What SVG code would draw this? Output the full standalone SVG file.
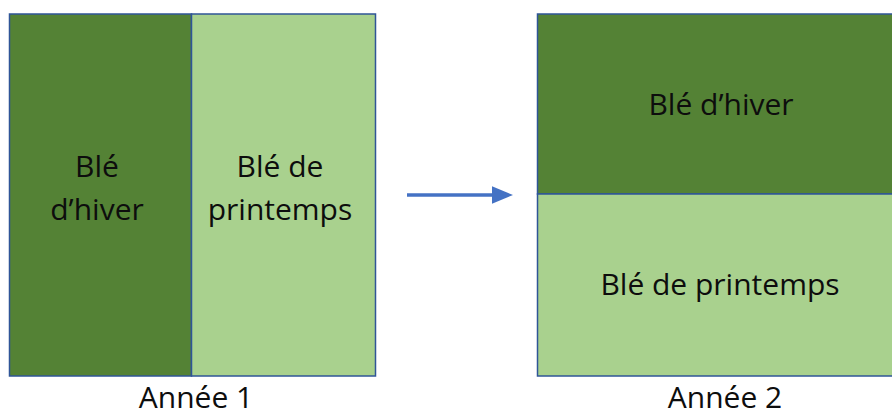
<svg xmlns="http://www.w3.org/2000/svg" width="892" height="417" viewBox="0 0 892 417">
<style>
.dark{fill:#548235;stroke:#2F5597;stroke-width:1.5}
.light{fill:#A9D18E;stroke:#2F5597;stroke-width:1.5}
text{font-family:"Open Sans","Noto Sans",sans-serif;font-size:30px;fill:#0d0d0d;text-anchor:middle}
</style>
<defs>
<marker id="ah" markerWidth="6" markerHeight="5" refX="0" refY="2.5" orient="auto" markerUnits="strokeWidth">
<path d="M0,0 L6,2.5 L0,5 Z" fill="#4472C4"/>
</marker>
</defs>
<rect x="0" y="0" width="892" height="417" fill="#fff"/>
<g id="y1-hiver">
<rect class="dark" x="9.5" y="14" width="182" height="362"/>
<text x="97" y="177">Blé</text>
<text x="97" y="220">d’hiver</text>
</g>
<g id="y1-printemps">
<rect class="light" x="191.5" y="14" width="184" height="362"/>
<text x="280" y="177">Blé de</text>
<text x="280" y="220">printemps</text>
</g>
<text id="label1" x="196" y="408">Année 1</text>
<g id="y2-hiver">
<rect class="dark" x="537.5" y="14" width="360" height="180"/>
<text x="721" y="115">Blé d’hiver</text>
</g>
<g id="y2-printemps">
<rect class="light" x="537.5" y="194" width="360" height="182"/>
<text x="720" y="295">Blé de printemps</text>
</g>
<text id="label2" x="725" y="408">Année 2</text>
<g id="connectors">
<line x1="407" y1="195" x2="492" y2="195" stroke="#4472C4" stroke-width="3.5" marker-end="url(#ah)"/>
</g>
</svg>
